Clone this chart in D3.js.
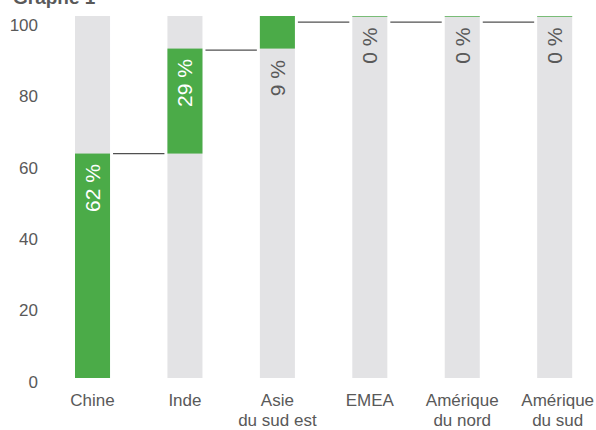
<!DOCTYPE html>
<html><head><meta charset="utf-8">
<script src="https://cdn.jsdelivr.net/npm/d3@7"></script>
<style>
html,body{margin:0;padding:0;background:#fff;}
svg{display:block;font-family:"Liberation Sans",Arial,sans-serif;}
</style></head>
<body>
<svg id="chart" width="596" height="430"></svg>
<script>
const title = "Graphe 1";
const categories = [["Chine"], ["Inde"], ["Asie", "du sud est"], ["EMEA"], ["Amérique", "du nord"], ["Amérique", "du sud"]];
const shares = [62, 29, 9, 0, 0, 0];
const connectorLevels = [62, 90.6, 98.3, 98.3, 98.3];
const yTicks = [0, 20, 40, 60, 80, 100];

const svg = d3.select("#chart");
const W = 596, H = 430;
const textColor = "#595959", green = "#4BAB48", gray = "#E3E3E5";

const x = d3.scaleBand().domain(d3.range(categories.length))
  .range([46.3, 600.9]).paddingInner(0.621).paddingOuter(0.3105);
const y = d3.scaleLinear().domain([0, 100]).range([378, 16]);
const yLab = d3.scaleLinear().domain([0, 100]).range([382, 24.7]);
const bw = x.bandwidth();

// title (partially cut off at top)
svg.append("text").attr("x", 13).attr("y", 4).attr("font-size", 19).attr("font-weight", "bold")
  .attr("fill", textColor).text(title);

// y tick labels
svg.append("g").selectAll("text").data(yTicks).join("text")
  .attr("x", 38).attr("y", d => yLab(d)).attr("dy", "0.35em")
  .attr("text-anchor", "end").attr("font-size", 17).attr("fill", textColor)
  .text(d => d);

// cumulative starts
const starts = [];
let acc = 0;
shares.forEach(v => { starts.push(acc); acc += v; });

// background gray bars
svg.append("g").selectAll("rect").data(shares).join("rect")
  .attr("x", (d, i) => x(i)).attr("width", bw)
  .attr("y", y(100)).attr("height", y(0) - y(100)).attr("fill", gray);

// green floating bars
svg.append("g").selectAll("rect").data(shares).join("rect")
  .attr("x", (d, i) => x(i)).attr("width", bw)
  .attr("y", (d, i) => y(starts[i] + d))
  .attr("height", (d, i) => Math.max(0.7, y(starts[i]) - y(starts[i] + d)))
  .attr("fill", green);

// connectors
svg.append("g").selectAll("line").data(connectorLevels).join("line")
  .attr("x1", (d, i) => x(i) + bw + 3).attr("x2", (d, i) => x(i + 1) - 3)
  .attr("y1", d => y(d)).attr("y2", d => y(d))
  .attr("stroke", "#505050").attr("stroke-width", 1.2);

// value labels (rotated)
const labFont = 21;
svg.append("g").selectAll("text").data(shares).join("text")
  .each(function (d, i) {
    const segH = y(starts[i]) - y(starts[i] + d);
    const inside = segH > 70;
    const anchorY = inside ? y(starts[i] + d) + 10.5 : y(starts[i]) + 11.5;
    d3.select(this)
      .attr("transform", `translate(${x(i) + bw / 2},${anchorY}) rotate(-90)`)
      .attr("text-anchor", "end").attr("dy", "0.35em")
      .attr("font-size", labFont)
      .attr("fill", inside ? "#ffffff" : textColor)
      .text(d + "\u00a0%");
  });

// x category labels
const xl = svg.append("g").selectAll("text").data(categories).join("text")
  .attr("x", (d, i) => x(i) + bw / 2 + (i === categories.length - 1 ? 3 : 0))
  .attr("y", 405.5).attr("text-anchor", "middle").attr("font-size", 17).attr("fill", textColor);
xl.selectAll("tspan").data(d => d).join("tspan")
  .attr("x", function () { return d3.select(this.parentNode).attr("x"); })
  .attr("dy", (d, j) => j === 0 ? 0 : 20.5)
  .text(d => d);
</script>
</body></html>
